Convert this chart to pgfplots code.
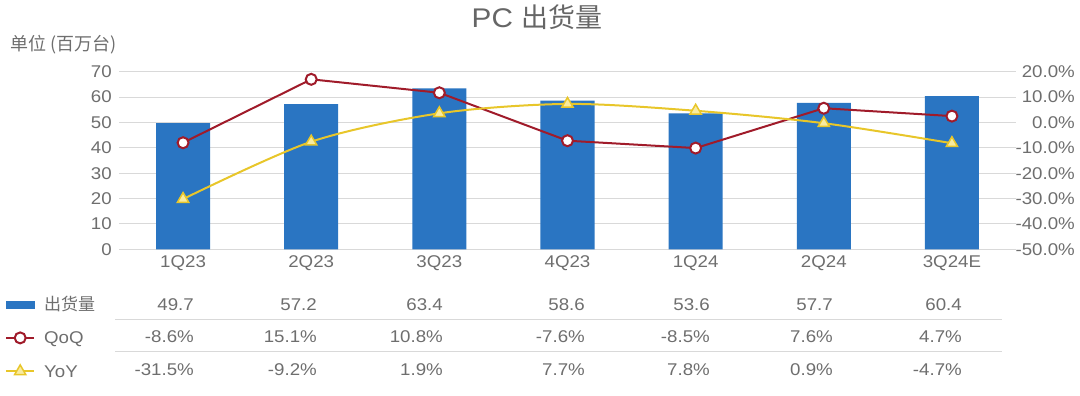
\documentclass[border=0pt]{standalone}
\usepackage{pgfplots}
\pgfplotsset{compat=1.18}
\usepackage{fontspec}
\setmainfont{Liberation Sans}[FakeStretch=1.1]
\newfontfamily\cjk{Noto Sans CJK SC}
\definecolor{barblue}{HTML}{2A75C2}
\definecolor{qred}{HTML}{A01B2A}
\definecolor{yyel}{HTML}{E8C62A}
\definecolor{ylight}{HTML}{F8EBA0}
\definecolor{gridc}{HTML}{D9D9D9}
\definecolor{txt}{HTML}{6E6E6E}
\definecolor{titlec}{HTML}{666666}
\newcommand{\tf}{\fontsize{17}{20}\selectfont}
\begin{document}
\begin{tikzpicture}
\useasboundingbox (0pt,0pt) rectangle (1080pt,396pt);
\begin{axis}[
  at={(119pt,146.7pt)}, anchor=south west,
  scale only axis, width=897pt, height=177.6pt,
  xmin=-0.5, xmax=6.5, ymin=0, ymax=70,
  ybar, bar width=54pt,
  xtick={0,...,6}, xticklabels={1Q23,2Q23,3Q23,4Q23,1Q24,2Q24,3Q24E},
  ytick={0,10,...,70}, yticklabels={0,10,20,30,40,50,60,70},
  ymajorgrids, grid style={gridc, line width=1pt},
  axis line style={draw=none}, major tick length=0pt,
  tick label style={font=\tf, text=txt},
  yticklabel style={anchor=east, inner sep=0pt, xshift=-7pt},
  xticklabel style={anchor=north, inner sep=0pt, yshift=-6pt},
  clip=false,
]
\addplot[fill=barblue, draw=none] coordinates {(0,49.7)(1,57.2)(2,63.4)(3,58.6)(4,53.6)(5,57.7)(6,60.4)};
\end{axis}
\begin{axis}[
  at={(119pt,146.7pt)}, anchor=south west,
  scale only axis, width=897pt, height=177.6pt,
  xmin=-0.5, xmax=6.5, ymin=-50, ymax=20,
  hide x axis, axis y line*=right,
  ytick={-50,-40,...,20},
  yticklabels={-50.0\%,-40.0\%,-30.0\%,-20.0\%,-10.0\%,0.0\%,10.0\%,20.0\%},
  axis line style={draw=none}, major tick length=0pt,
  yticklabel style={font=\tf, text=txt, anchor=east, inner sep=0pt, xshift=59pt},
  legend style={at={(axis description cs:-0.12709,-0.2782)}, anchor=north west, draw=none, fill=none, inner sep=0pt, font=\tf, text=txt, nodes={inner sep=0pt, text height=12pt, text depth=3pt}, row sep=18pt, column sep=9pt},
  legend cell align=left,
  legend image code/.code={\draw[#1, mark repeat=2, mark phase=2] plot coordinates {(0pt,1.5pt)(14pt,1.5pt)(28pt,1.5pt)};},
  clip=false,
]
\addlegendimage{legend image code/.code={\fill[barblue] (0pt,-2pt) rectangle (28pt,5pt);}}
\addlegendentry{\cjk 出货量}
\addplot[qred, line width=2pt, mark=*, mark size=5.5pt, mark options={fill=white, draw=qred, line width=2pt}]
  coordinates {(0,-8.0)(1,17.0)(2,11.7)(3,-7.2)(4,-10.1)(5,5.6)(6,2.5)};
\addlegendentry{QoQ}
\addplot[yyel, line width=2pt, smooth, mark=triangle*, mark size=6.5pt, mark options={fill=ylight, draw=yyel, line width=1.5pt}]
  coordinates {(0,-30.2)(1,-7.6)(2,3.6)(3,7.3)(4,4.6)(5,-0.3)(6,-8.2)};
\addlegendentry{YoY}
\end{axis}
% title and unit label
\node[font=\fontsize{27}{32}\selectfont, text=titlec] at (537pt,379pt) {PC {\cjk 出货量}};
\node[anchor=west, inner sep=0pt, font=\fontsize{18}{21}\selectfont, text=txt] at (10pt,351pt) {\cjk 单位 (百万台)};
% data table
\draw[gridc, line width=1pt] (115pt,76.7pt) -- (1002pt,76.7pt);
\draw[gridc, line width=1pt] (115pt,44pt) -- (1002pt,44pt);
\begin{scope}[every node/.style={anchor=base east, inner sep=0pt, font=\tf, text=txt}]
\node at (194pt,85.3pt) {49.7};
\node at (317pt,85.3pt) {57.2};
\node at (443pt,85.3pt) {63.4};
\node at (585pt,85.3pt) {58.6};
\node at (710pt,85.3pt) {53.6};
\node at (833pt,85.3pt) {57.7};
\node at (962pt,85.3pt) {60.4};
\node at (194pt,53pt) {-8.6\%};
\node at (317pt,53pt) {15.1\%};
\node at (443pt,53pt) {10.8\%};
\node at (585pt,53pt) {-7.6\%};
\node at (710pt,53pt) {-8.5\%};
\node at (833pt,53pt) {7.6\%};
\node at (962pt,53pt) {4.7\%};
\node at (194pt,20pt) {-31.5\%};
\node at (317pt,20pt) {-9.2\%};
\node at (443pt,20pt) {1.9\%};
\node at (585pt,20pt) {7.7\%};
\node at (710pt,20pt) {7.8\%};
\node at (833pt,20pt) {0.9\%};
\node at (962pt,20pt) {-4.7\%};
\end{scope}
\end{tikzpicture}
\end{document}
